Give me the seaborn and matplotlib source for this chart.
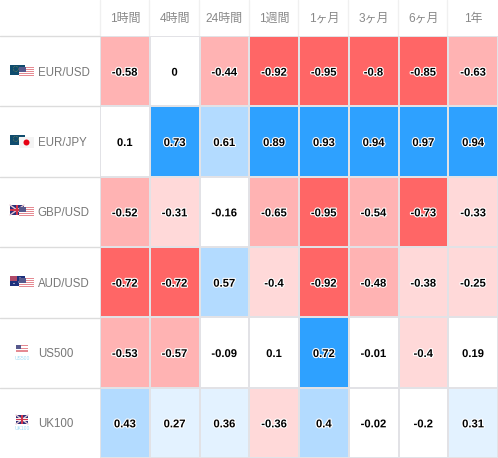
import numpy as np
import pandas as pd
import matplotlib.pyplot as plt
import matplotlib.patheffects as pe
from matplotlib.colors import ListedColormap, BoundaryNorm
from matplotlib.patches import Rectangle, Circle
from matplotlib.transforms import ScaledTranslation
import seaborn as sns

sns.set_theme(style="white")
plt.rcParams['font.family'] = ['Liberation Sans', 'Noto Sans CJK JP', 'DejaVu Sans']

periods = ['1時間', '4時間', '24時間', '1週間', '1ヶ月', '3ヶ月', '6ヶ月', '1年']
pairs = ['EUR/USD', 'EUR/JPY', 'GBP/USD', 'AUD/USD', 'US500', 'UK100']

eur_usd = [-0.58, 0, -0.44, -0.92, -0.95, -0.8, -0.85, -0.63]
eur_jpy = [0.1, 0.73, 0.61, 0.89, 0.93, 0.94, 0.97, 0.94]
gbp_usd = [-0.52, -0.31, -0.16, -0.65, -0.95, -0.54, -0.73, -0.33]
aud_usd = [-0.72, -0.72, 0.57, -0.4, -0.92, -0.48, -0.38, -0.25]
us500 = [-0.53, -0.57, -0.09, 0.1, 0.72, -0.01, -0.4, 0.19]
uk100 = [0.43, 0.27, 0.36, -0.36, 0.4, -0.02, -0.2, 0.31]

df = pd.DataFrame([eur_usd, eur_jpy, gbp_usd, aud_usd, us500, uk100],
                  index=pairs, columns=periods)

colors = ['#ff6666', '#ffb3b3', '#ffd9d9', '#ffffff', '#e3f2ff', '#b3dbff', '#2ea1ff']
bounds = [-1, -0.7, -0.41, -0.21, 0.2, 0.4, 0.7, 1]
cmap = ListedColormap(colors)
norm = BoundaryNorm(bounds, cmap.N)

W, H = 498, 458
fig = plt.figure(figsize=(W / 100, H / 100), dpi=100)
ax = fig.add_axes([100 / W, 0, 398 / W, 1 - 36 / H])

sns.heatmap(df, ax=ax, cmap=cmap, norm=norm, cbar=False, annot=True, fmt='g',
            linewidths=1.2, linecolor='#e2e2e6',
            annot_kws={'fontsize': 8.1, 'fontweight': 'bold', 'color': 'black',
                       'path_effects': [pe.withStroke(linewidth=1.6, foreground='white')]})

ax.xaxis.tick_top()
ax.tick_params(axis='x', length=0, pad=8, labelsize=8.6, labelcolor='#888888', rotation=0)
ax.tick_params(axis='y', length=0, pad=44.8, labelsize=8.3, labelcolor='#777777', rotation=0)
ax.set_xlabel('')
ax.set_ylabel('')

# text sits a bit under the cell centre in the original
nudge = ScaledTranslation(0, -1.5 / 100, fig.dpi_scale_trans)
for lab in ax.get_yticklabels():
    lab.set_ha('left')
    lab.set_transform(lab.get_transform() + nudge)
for t in ax.texts:
    t.set_transform(t.get_transform() + nudge)

# overlay in pixel coords for the separators and little flags
ov = fig.add_axes([0, 0, 1, 1], facecolor='none', zorder=5)
ov.set_xlim(0, W)
ov.set_ylim(H, 0)
ov.axis('off')

for y in [36, 106.3, 177, 247, 317.5, 388]:
    ov.plot([0, 100], [y, y], color='#dcdcdc', lw=1)
for x in np.linspace(99.5, 497, 9)[:-1]:
    ov.plot([x, x], [0, 35], color='#f0f0f0', lw=1)


def box(x, y, w, h, c, z=1):
    ov.add_patch(Rectangle((x, y), w, h, facecolor=c, edgecolor='none', zorder=z))


def flag_eu(x, y):
    box(x, y, 15, 10, '#0f4c6e')
    ov.add_patch(Circle((x + 6, y + 4), 2.6, fill=False, edgecolor='#c9b03c', lw=0.4, ls=':'))


def flag_us(x, y, w=15, h=10):
    box(x, y, w, h, '#ffffff', 2)
    for i in range(0, 5):
        box(x, y + i * h / 5, w, h / 10, '#e58a92', 2)
    box(x, y, w * 0.45, h * 0.5, '#56598c', 3)


def flag_jp(x, y):
    box(x, y, 15, 11, '#f4f4f4', 2)
    ov.add_patch(Circle((x + 7.5, y + 5.5), 3, facecolor='#e60012', edgecolor='none', zorder=3))


def flag_uk(x, y, w=14, h=10):
    box(x, y, w, h, '#2a2f7a')
    ov.plot([x, x + w], [y, y + h], color='#e8c8d0', lw=1, zorder=1.5)
    ov.plot([x, x + w], [y + h, y], color='#e8c8d0', lw=1, zorder=1.5)
    box(x, y + h * 0.38, w, h * 0.24, '#f4e8ea', 1.6)
    box(x + w * 0.4, y, w * 0.2, h, '#f4e8ea', 1.6)
    box(x, y + h * 0.44, w, h * 0.12, '#d0334a', 1.7)
    box(x + w * 0.45, y, w * 0.1, h, '#d0334a', 1.7)


def flag_au(x, y):
    box(x, y, 15, 10, '#1c2f7c')
    box(x, y, 7, 5, '#b04a68', 1.2)
    for px, py in [(10, 2), (12, 4), (9, 6), (11, 8), (4, 7.5)]:
        ov.add_patch(Circle((x + px, y + py), 0.6, facecolor='white', edgecolor='none', zorder=1.5))


flag_eu(10, 65)
flag_us(19, 67)
flag_eu(10, 135)
flag_jp(19, 137)
flag_uk(10, 205)
flag_us(19, 207)
flag_au(10, 276)
flag_us(19, 278)
flag_us(16, 345, 12, 8)
flag_uk(16, 415, 12, 9)
ov.text(22, 358, 'US500', fontsize=3.6, color='#9fdcf5', ha='center', va='center')
ov.text(22, 428, 'UK100', fontsize=3.6, color='#9fdcf5', ha='center', va='center')

fig.savefig('out.png', dpi=100)
